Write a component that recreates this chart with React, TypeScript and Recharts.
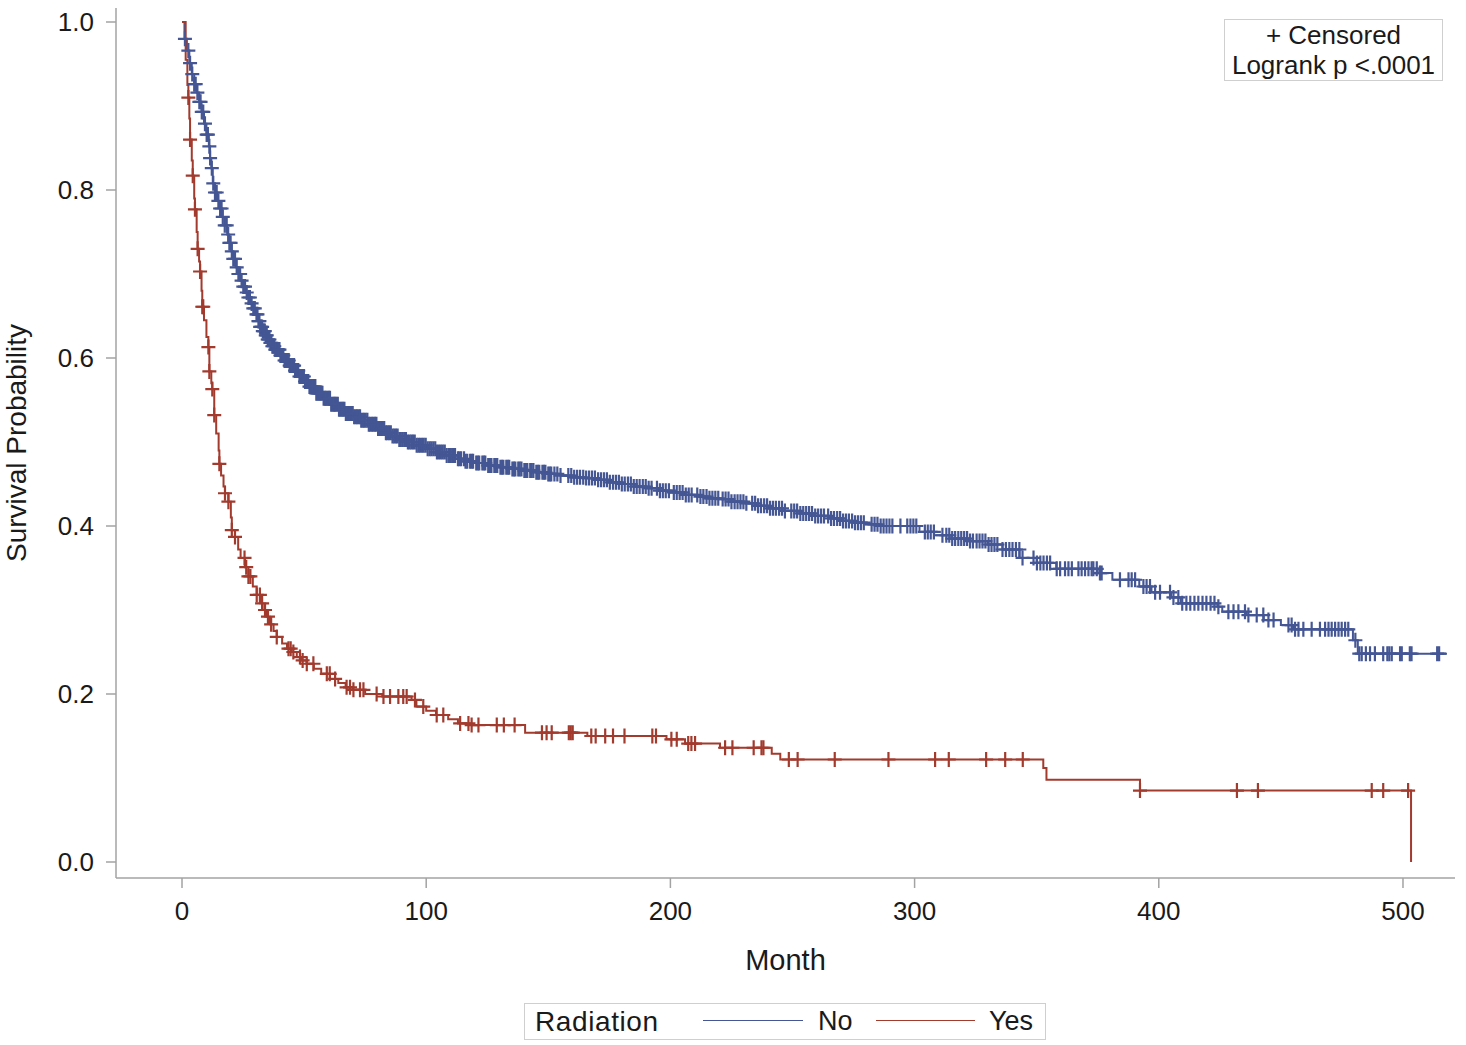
import React from 'react';
import { ComposedChart, Line, Scatter, XAxis, YAxis } from 'recharts';

// ---- Data ----
const xTicks = [0, 100, 200, 300, 400, 500];
const yTicks = [0, 0.2, 0.4, 0.6, 0.8, 1.0];

// Kaplan-Meier step knots: Radiation = No
const noTimes = [0, 1, 2, 3, 4, 5, 6, 7, 8, 9, 10, 11, 11.5, 12, 12.6, 13.5, 14.5, 15.5, 16.5, 17.5, 18.5, 19.3, 20.2, 21, 22, 23, 24, 25, 26, 27, 28, 29, 30, 31, 32, 33, 34, 35, 36, 37, 38, 40, 42, 44, 46, 48, 50, 52, 55, 58, 61, 64, 67, 70, 73, 76, 80, 83, 86, 89, 92, 96, 100, 104, 108, 112, 116, 120, 125, 130, 135, 140, 145, 150, 155, 160, 165, 170, 175, 180, 185, 190, 195, 200, 206, 212, 216, 220, 225, 230, 235, 240, 246, 253, 259, 265, 270, 275, 280, 285, 302, 308, 315, 322, 330, 336, 343, 350, 358, 375, 381, 392, 397, 405, 409, 424, 426, 436, 443, 450, 455, 479.5, 481.5, 518];
const noSurv = [1.0, 0.98, 0.966, 0.951, 0.938, 0.926, 0.916, 0.905, 0.893, 0.879, 0.866, 0.852, 0.838, 0.826, 0.808, 0.797, 0.787, 0.778, 0.768, 0.758, 0.747, 0.737, 0.727, 0.718, 0.708, 0.7, 0.692, 0.685, 0.678, 0.672, 0.665, 0.659, 0.652, 0.644, 0.637, 0.632, 0.627, 0.622, 0.618, 0.614, 0.61, 0.603, 0.597, 0.591, 0.585, 0.578, 0.572, 0.566, 0.558, 0.552, 0.545, 0.539, 0.534, 0.53, 0.526, 0.521, 0.516, 0.511, 0.507, 0.503, 0.5, 0.496, 0.492, 0.488, 0.484, 0.48, 0.477, 0.475, 0.472, 0.47, 0.468, 0.466, 0.464, 0.462, 0.46, 0.458, 0.457, 0.455, 0.452, 0.45, 0.447, 0.445, 0.442, 0.44, 0.437, 0.435, 0.433, 0.432, 0.429, 0.427, 0.424, 0.421, 0.418, 0.415, 0.412, 0.409, 0.406, 0.404, 0.402, 0.4, 0.393, 0.389, 0.385, 0.382, 0.378, 0.372, 0.362, 0.356, 0.349, 0.344, 0.336, 0.328, 0.321, 0.315, 0.308, 0.304, 0.298, 0.294, 0.288, 0.282, 0.277, 0.264, 0.248, 0.248];

// Kaplan-Meier step knots: Radiation = Yes
const yesTimes = [0, 1.5, 2.2, 2.6, 3.0, 3.3, 4.0, 4.4, 5.0, 5.3, 6.0, 6.4, 7.0, 7.4, 8.0, 8.3, 9.0, 10.0, 10.8, 11.2, 12.0, 12.4, 13.2, 14.0, 15.0, 15.3, 16.0, 17.0, 17.6, 19.0, 20.0, 20.4, 21.7, 23.0, 24.0, 25.8, 27.2, 29.0, 30.6, 32.0, 33.0, 34.7, 36.0, 37.5, 38.8, 41.0, 43.0, 44.9, 47.0, 49.0, 51.0, 54.0, 57.0, 60.6, 64.0, 67.0, 70.0, 75.0, 82.0, 94.0, 96.0, 100.0, 104.0, 109.0, 113.0, 118.0, 140.5, 166.0, 198.4, 206.0, 220.3, 241.5, 245.0, 352.7, 354.0, 392.3, 503.3];
const yesSurv = [1.0, 0.955, 0.925, 0.91, 0.885, 0.86, 0.835, 0.817, 0.79, 0.777, 0.75, 0.73, 0.715, 0.703, 0.68, 0.661, 0.645, 0.625, 0.613, 0.584, 0.57, 0.563, 0.532, 0.51, 0.49, 0.474, 0.46, 0.447, 0.439, 0.429, 0.41, 0.395, 0.387, 0.372, 0.362, 0.351, 0.34, 0.328, 0.318, 0.308, 0.3, 0.292, 0.283, 0.275, 0.268, 0.26, 0.254, 0.25, 0.244, 0.24, 0.236, 0.23, 0.224, 0.218, 0.213, 0.208, 0.205, 0.2, 0.197, 0.193, 0.185, 0.18, 0.175, 0.17, 0.165, 0.163, 0.154, 0.15, 0.146, 0.141, 0.136, 0.129, 0.122, 0.112, 0.098, 0.085, 0.0];

// Censoring times (months)
const noCensorTimes = [
  1.2, 2.6, 3.3, 4.2, 5.0, 5.6, 6.3, 7.1, 7.6, 8.1, 8.7, 9.4, 10.1, 10.6, 11.2, 11.5, 12.2, 12.8, 13.5, 14.2, 14.9, 15.6, 16.2, 16.7, 17.5, 18.3, 18.9, 19.4, 19.9, 20.4, 21.0, 21.7, 22.4, 23.1, 23.8, 24.4, 25.1, 25.8, 26.5, 27.2, 27.8, 28.5, 29.2, 29.8,
  30.5, 30.9, 31.3, 31.7, 32.0, 32.4, 32.8, 33.1, 33.5, 33.9, 34.3, 34.7, 35.1, 35.4, 35.8, 36.2, 36.6, 37.0, 37.4, 37.8, 38.2, 38.6, 39.0, 39.5, 39.9, 40.3, 40.7, 41.1, 41.5, 42.0, 42.4, 42.8, 43.3, 43.7, 44.1, 44.6, 45.0, 45.5, 45.9, 46.3, 46.8, 47.2, 47.6, 48.1, 48.5, 49.0, 49.4, 49.9, 50.4, 50.8, 51.3, 51.7, 52.2, 52.7, 53.1, 53.6, 54.1, 54.6, 55.0, 55.5, 56.0, 56.5, 57.0, 57.5, 58.0, 58.5, 59.0, 59.6, 60.1, 60.6, 61.1, 61.7, 62.2, 62.7, 63.2, 63.8, 64.3, 64.9, 65.4, 66.0, 66.5, 67.1, 67.6, 68.2, 68.8, 69.3, 69.9, 70.5, 71.1, 71.7, 72.3, 72.9, 73.4, 74.0, 74.6, 75.2, 75.9, 76.5, 77.1, 77.8, 78.4, 79.0, 79.6, 80.3, 80.9, 81.5, 82.2, 82.8, 83.5, 84.1, 84.8, 85.5, 86.2, 86.9, 87.6, 88.3, 89.0, 89.6, 90.3, 91.0, 91.7, 92.5, 93.2, 93.9, 94.6, 95.3, 96.1, 96.8, 97.5, 98.3, 99.0, 99.8, 100.6, 101.4, 102.1, 102.9, 103.7, 104.4, 105.2, 106.0, 106.8, 107.6, 108.4, 109.3, 110.1, 111.0, 111.8,
  113.0, 113.6, 114.3, 115.5, 116.1, 116.8, 118.0, 118.6, 119.2, 120.5, 121.1, 121.7, 123.0, 123.6, 124.2, 125.4, 126.1, 126.7, 127.9, 128.5, 129.1, 130.4, 131.0, 131.6, 132.8, 133.4, 134.0, 135.3, 135.9, 136.5, 137.7, 138.3, 139.0, 140.2, 140.8, 141.4, 142.6, 143.2, 143.9, 145.1, 145.7, 146.3, 147.6, 148.2, 148.8, 150.0, 150.6, 151.2, 152.5, 153.7, 155.0,
  158.2, 159.4, 160.6, 161.8, 163.0, 164.3, 165.5, 166.7, 167.9, 169.1, 170.4, 171.6, 172.8, 174.0, 175.2, 176.5, 177.7, 178.9, 180.1, 181.3, 182.6, 183.8, 185.0, 186.2, 187.4, 188.7, 189.9, 191.1, 192.3,
  194.5, 195.7, 196.9, 198.1, 199.4, 201.4, 202.6, 203.8, 205.0, 206.3, 207.5, 208.7, 211.0,
  212.3, 213.5, 214.8, 216.0, 217.2, 218.4, 219.6, 221.4, 222.6, 223.8, 225.0, 226.3, 227.5, 228.7, 229.9, 231.1,
  233.5, 234.7, 235.9, 237.1, 238.4, 239.6, 240.8, 242.0, 243.2, 244.5, 245.7, 246.9, 249.5, 250.7, 251.9, 253.2, 254.4, 255.6, 256.8, 258.0, 259.3, 260.5, 261.7, 262.9,
  264.6, 265.8, 267.0, 268.3, 269.5, 270.7, 271.9, 273.1, 274.4, 275.6, 276.8, 278.0, 279.2, 282.4, 283.6, 284.8, 286.1, 287.3, 288.5, 289.7, 290.9, 294.2,
  297.0, 298.3, 299.5, 300.7, 304.2, 305.4, 306.6, 307.9, 311.4, 313.0, 314.2, 315.4, 316.6, 317.9, 319.1, 320.3, 321.5, 322.7, 323.9, 325.4, 326.6, 327.8, 329.0, 330.3, 331.5, 332.7, 333.9,
  336.0, 337.4, 338.8, 340.1, 341.5, 342.9, 344.2, 348.7, 350.1, 351.5, 352.8, 354.2, 355.5, 358.2, 359.6,
  361.6, 363.0, 364.4, 367.1, 368.4, 369.8, 371.2, 372.5, 373.2, 374.6, 375.9, 376.6, 384.1, 387.6, 388.9, 390.3, 393.7, 395.0, 396.4, 398.5, 400.5, 404.6, 406.0,
  408.0, 409.6, 411.3, 412.9, 414.6, 416.2, 417.9, 419.5, 421.2, 422.8, 424.4, 428.5, 430.6, 432.6, 435.3, 436.7, 440.1, 442.8, 444.9, 447.0,
  453.1, 454.4, 455.8, 457.2, 459.2, 462.6, 466.0, 468.1, 469.5, 470.8, 472.2, 473.6, 474.9, 476.3, 477.6, 480.5,
  482.1, 483.1, 484.8, 486.5, 488.5, 491.9, 493.6, 494.4, 495.4, 498.8, 499.5, 502.8, 503.5, 514.0, 514.8,
];
const yesCensorTimes = [
  2.6, 3.3, 4.4, 5.3, 6.4, 7.4, 8.3, 8.7, 10.8, 11.2, 12.4, 13.2, 15.3, 17.6, 19.0, 20.4, 21.7, 25.6, 26.3, 27.2, 28.0, 30.6, 31.9, 32.8, 34.0, 35.2, 36.5, 38.8,
  43.6, 44.5, 45.6, 48.3, 49.4, 51.1, 53.8, 59.3, 60.5, 62.7, 67.4, 68.8, 70.2, 72.9, 74.3, 79.7, 82.5, 85.2, 88.6, 90.6, 92.0, 95.4, 98.8, 104.3, 107.0,
  113.9, 117.3, 118.6, 121.4, 128.9, 131.8, 136.2, 147.4, 149.3, 151.4, 158.4, 159.2, 160.0, 167.6, 169.4, 173.3, 176.5, 181.2, 192.6, 194.1, 200.4, 202.6,
  207.3, 208.6, 210.1, 222.4, 225.4, 234.1, 237.3, 238.1, 248.5, 252.1, 267.3, 289.3, 308.4, 314.0, 329.3, 337.1, 344.3, 392.3, 432.0, 440.6, 487.2, 491.9, 502.1,
];

const BLUE = '#445694';
const RED = '#A23A2E';
const FRAME = '#a3a3a3';
const FONT = '"Liberation Sans", Arial, Helvetica, sans-serif';

// Build tables for the library
const toCurve = (ts: number[], ss: number[]) => ts.map((t, i) => ({ t, s: ss[i] }));
const stepAt = (ts: number[], ss: number[], t: number) => {
  let v = ss[0];
  for (let i = 0; i < ts.length; i++) {
    if (ts[i] <= t) v = ss[i];
    else break;
  }
  return v;
};
const noCurve = toCurve(noTimes, noSurv);
const yesCurve = toCurve(yesTimes, yesSurv);
const noCensor = noCensorTimes.map((t) => ({ t, s: stepAt(noTimes, noSurv, t) }));
const yesCensor = yesCensorTimes.map((t) => ({ t, s: stepAt(yesTimes, yesSurv, t) }));

const makePlus = (color: string) => (props: any) => {
  const { cx, cy } = props;
  if (cx == null || cy == null) return <g />;
  return (
    <path
      d={`M${cx - 7},${cy}H${cx + 7}M${cx},${cy - 7.5}V${cy + 7.5}`}
      stroke={color}
      strokeWidth={2.2}
      fill="none"
    />
  );
};
const BluePlus = makePlus(BLUE);
const RedPlus = makePlus(RED);

const X_DOMAIN: [number, number] = [-27.03, 521.3];
const Y_DOMAIN: [number, number] = [-0.01905, 1.01667];

const tickStyle = { fontSize: 26, fill: '#1a1a1a', fontFamily: FONT };

export default function App() {
  return (
    <div style={{ position: 'absolute', left: 0, top: 0, width: 1466, height: 1045, background: '#fff', fontFamily: FONT }}>
      <ComposedChart width={1466} height={1045} margin={{ top: 8, right: 11, bottom: 67, left: 8 }}>
        <XAxis
          xAxisId="main"
          dataKey="t"
          type="number"
          domain={X_DOMAIN}
          allowDataOverflow
          ticks={xTicks}
          tick={tickStyle}
          tickSize={10}
          tickMargin={14}
          height={100}
          stroke={FRAME}
          axisLine={{ stroke: FRAME, strokeWidth: 1.5 }}
          tickLine={{ stroke: FRAME, strokeWidth: 1.5 }}
          label={(p: any) => {
            const vb = p.viewBox || {};
            return (
              <text x={vb.x + vb.width / 2} y={vb.y + 92} textAnchor="middle" fontSize={29} fill="#1a1a1a" fontFamily={FONT}>
                Month
              </text>
            );
          }}
        />
        <XAxis
          xAxisId="top"
          orientation="top"
          type="number"
          domain={X_DOMAIN}
          allowDataOverflow
          tick={false}
          tickLine={false}
          height={0}
          axisLine={{ stroke: FRAME, strokeWidth: 1.5 }}
        />
        <YAxis
          yAxisId="main"
          type="number"
          domain={Y_DOMAIN}
          allowDataOverflow
          ticks={yTicks}
          tickFormatter={(v: number) => v.toFixed(1)}
          tick={tickStyle}
          tickSize={10}
          tickMargin={12}
          width={108}
          axisLine={{ stroke: FRAME, strokeWidth: 1.5 }}
          tickLine={{ stroke: FRAME, strokeWidth: 1.5 }}
          label={(p: any) => {
            const vb = p.viewBox || {};
            const cy = vb.y + vb.height / 2;
            return (
              <text x={26} y={cy} transform={`rotate(-90, 26, ${cy})`} textAnchor="middle" fontSize={28} fill="#1a1a1a" fontFamily={FONT}>
                Survival Probability
              </text>
            );
          }}
        />
        <YAxis
          yAxisId="right"
          orientation="right"
          type="number"
          domain={Y_DOMAIN}
          allowDataOverflow
          tick={false}
          tickLine={false}
          width={0}
          axisLine={{ stroke: FRAME, strokeWidth: 1.5 }}
        />
        <Line
          xAxisId="main"
          yAxisId="main"
          data={noCurve}
          dataKey="s"
          type="stepAfter"
          stroke={BLUE}
          strokeWidth={2}
          dot={false}
          activeDot={false}
          isAnimationActive={false}
        />
        <Line
          xAxisId="main"
          yAxisId="main"
          data={yesCurve}
          dataKey="s"
          type="stepAfter"
          stroke={RED}
          strokeWidth={2}
          dot={false}
          activeDot={false}
          isAnimationActive={false}
        />
        <Scatter
          xAxisId="main"
          yAxisId="main"
          data={noCensor}
          dataKey="s"
          shape={BluePlus}
          isAnimationActive={false}
        />
        <Scatter
          xAxisId="main"
          yAxisId="main"
          data={yesCensor}
          dataKey="s"
          shape={RedPlus}
          isAnimationActive={false}
        />
      </ComposedChart>

      {/* Inset box */}
      <div
        style={{
          position: 'absolute',
          left: 1224,
          top: 19,
          width: 219,
          height: 62,
          border: '1.5px solid #cfcfcf',
          boxSizing: 'border-box',
          textAlign: 'center',
          fontSize: 26,
          lineHeight: '30px',
          color: '#1a1a1a',
          paddingTop: 0,
          background: '#fff',
          whiteSpace: 'nowrap',
        }}
      >
        <div>+ Censored</div>
        <div>Logrank p &lt;.0001</div>
      </div>

      {/* Legend */}
      <div
        style={{
          position: 'absolute',
          left: 524,
          top: 1003,
          width: 522,
          height: 37,
          border: '1.5px solid #cfcfcf',
          boxSizing: 'border-box',
          fontSize: 27,
          color: '#1a1a1a',
          whiteSpace: 'nowrap',
        }}
      >
        <span style={{ position: 'absolute', left: 10, top: 2, lineHeight: '31px', fontSize: 28, letterSpacing: 0.6 }}>Radiation</span>
        <span style={{ position: 'absolute', left: 178, top: 16, width: 100, height: 0, borderTop: `1.5px solid ${BLUE}` }} />
        <span style={{ position: 'absolute', left: 293, top: 2, lineHeight: '31px' }}>No</span>
        <span style={{ position: 'absolute', left: 351, top: 16, width: 99, height: 0, borderTop: `1.5px solid ${RED}` }} />
        <span style={{ position: 'absolute', left: 464, top: 2, lineHeight: '31px' }}>Yes</span>
      </div>
    </div>
  );
}
